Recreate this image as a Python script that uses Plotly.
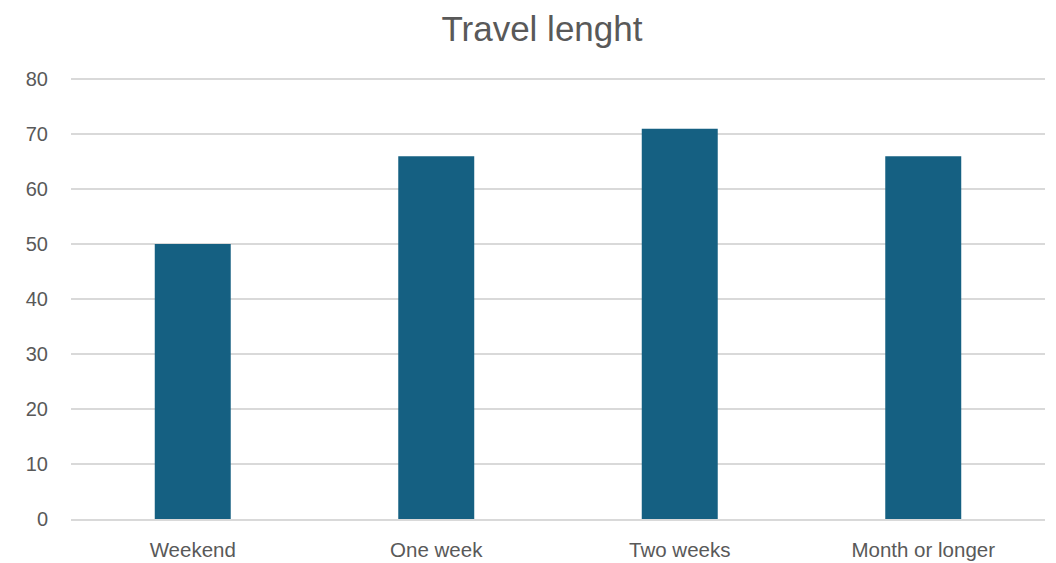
import plotly.graph_objects as go

categories = ["Weekend", "One week", "Two weeks", "Month or longer"]
values = [50, 66, 71, 66]
y_ticks = [0, 10, 20, 30, 40, 50, 60, 70, 80]

FONT = "Liberation Sans, Arial, sans-serif"
TEXT = "#595959"

fig = go.Figure(
    go.Bar(x=categories, y=values, marker=dict(color="#156082", line=dict(width=0)))
)
fig.update_layout(
    width=1048,
    height=555,
    paper_bgcolor="white",
    plot_bgcolor="white",
    margin=dict(l=63, r=11, t=69, b=44, autoexpand=False),
    bargap=0.688,
    showlegend=False,
    title=dict(
        text="Travel lenght",
        x=0.5095,
        xanchor="center",
        y=0.963,
        yanchor="middle",
        font=dict(family=FONT, size=35, color=TEXT),
    ),
    font=dict(family=FONT, color=TEXT),
)
fig.update_yaxes(
    range=[0, 80.4],
    tickvals=y_ticks,
    automargin=False,
    showgrid=True,
    gridcolor="#D9D9D9",
    gridwidth=1.5,
    zeroline=False,
    showline=False,
    ticklabelstandoff=22,
    tickfont=dict(family=FONT, size=20, color=TEXT),
)
fig.update_xaxes(
    automargin=False,
    showline=True,
    linecolor="#D9D9D9",
    linewidth=1.5,
    showgrid=False,
    ticklabelstandoff=12,
    tickfont=dict(family=FONT, size=20.5, color=TEXT),
)
fig.write_html("out.html")
